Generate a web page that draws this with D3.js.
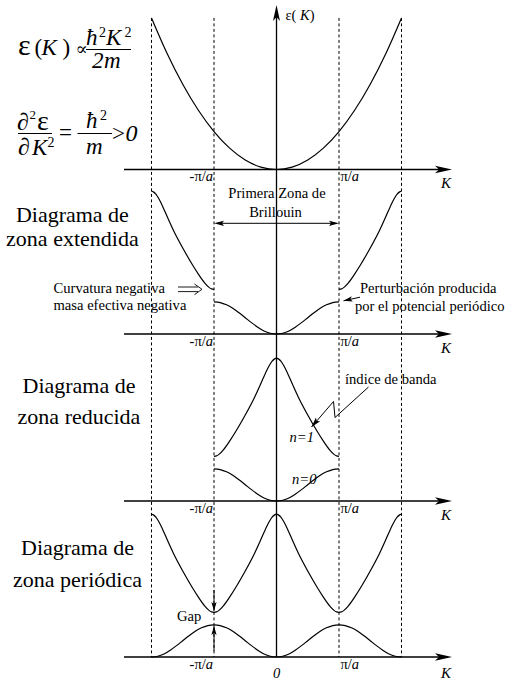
<!DOCTYPE html>
<html><head><meta charset="utf-8">
<script src="https://cdn.jsdelivr.net/npm/d3@7"></script>
<style>
html,body{margin:0;padding:0;background:#fff;}
svg{display:block;}
</style>
</head><body>
<svg id="c" width="515" height="689"></svg>
<script>
// ---------------- data ----------------
// K in units of π/a ; energy in units of (ħ²/2m)(π/a)²
const zoneK = [-2, -1, 1, 2];                 // dashed zone-boundary lines
const tickK = [-1, 1];                        // labelled ticks
const tickLabels = [["-π/", "a"], ["π/", "a"]];
// free electron parabola (0 ≤ K ≤ 2π/a)
const freeK = [0, 0.25, 0.5, 0.75, 1, 1.25, 1.5, 1.75, 2];
const freeE = [0, 0.0625, 0.25, 0.5625, 1, 1.5625, 2.25, 3.0625, 4];
// lowest band n=0 (0 ≤ K ≤ π/a)
const band0K = [0, 0.1, 0.2, 0.3, 0.4, 0.5, 0.6, 0.7, 0.8, 0.9, 1];
const band0E = [0, 0.02, 0.08, 0.18, 0.30, 0.43, 0.56, 0.68, 0.77, 0.83, 0.85];
// second band n=1 (π/a ≤ K ≤ 2π/a)
const band1K = [1, 1.04, 1.08, 1.15, 1.25, 1.35, 1.5, 1.65, 1.75, 1.82, 1.88, 1.93, 1.97, 2];
const band1E = [1.18, 1.19, 1.23, 1.35, 1.58, 1.84, 2.27, 2.74, 3.10, 3.36, 3.56, 3.69, 3.75, 3.77];
const panelTitles = [
  ["Diagrama de", "zona extendida"],
  ["Diagrama de", "zona reducida"],
  ["Diagrama de", "zona periódica"]
];

// ---------------- layout ----------------
const FONT = "'Liberation Serif', 'DejaVu Serif', 'Times New Roman', Times, serif";
const svg = d3.select("#c").attr("font-family", FONT);
const axisY = [169.5, 334, 501, 657];
const x = d3.scaleLinear().domain([-2, 2]).range([151.5, 401.5]);
const yFor = ay => d3.scaleLinear().domain([0, 4]).range([ay, ay - 151.6]);
const axisX0 = 124, axisX1 = 452, vTop = 5;
const SW = 1.2;

const pts = (K, E) => K.map((k, i) => [k, E[i]]);
function dedupe(p) {
  p.sort((a, b) => a[0] - b[0]);
  return p.filter((d, i) => i === 0 || Math.abs(d[0] - p[i - 1][0]) > 1e-9);
}
const mirror = p => dedupe(p.concat(p.map(([k, e]) => [-k, e])));

const free = pts(freeK, freeE);
const b0 = pts(band0K, band0E);
const b1 = pts(band1K, band1E);
const b1fold = b1.map(([k, e]) => [2 - k, e]);   // folded into 1st zone
const b0shift = b0.map(([k, e]) => [2 - k, e]);  // repeated in 2nd zone

function drawCurve(p, ay) {
  const y = yFor(ay);
  const line = d3.line().x(d => x(d[0])).y(d => y(d[1])).curve(d3.curveMonotoneX);
  svg.append("path").attr("d", line(dedupe(p.slice())))
    .attr("fill", "none").attr("stroke", "#000").attr("stroke-width", SW);
}

function arrowHead(tx, ty, dx, dy, L, w, notch) {
  const n = Math.hypot(dx, dy); const ux = dx / n, uy = dy / n;
  const px = -uy, py = ux;
  const bx = tx - ux * L, by = ty - uy * L;
  const nx = tx - ux * (L - notch), ny = ty - uy * (L - notch);
  svg.append("path")
    .attr("d", `M${tx},${ty}L${bx + px * w},${by + py * w}L${nx},${ny}L${bx - px * w},${by - py * w}Z`)
    .attr("fill", "#000");
}
function arrowLine(points, L = 9, w = 2.6, notch = 2) {
  svg.append("path").attr("d", d3.line()(points))
    .attr("fill", "none").attr("stroke", "#000").attr("stroke-width", 1);
  const a = points[points.length - 2], b = points[points.length - 1];
  arrowHead(b[0], b[1], b[0] - a[0], b[1] - a[1], L, w, notch);
}
function txt(xp, yp, s, size, italic, anchor) {
  const t = svg.append("text").attr("x", xp).attr("y", yp).attr("font-size", size)
    .attr("font-family", FONT).text(s);
  if (italic) t.attr("font-style", "italic");
  if (anchor) t.attr("text-anchor", anchor);
  return t;
}

// ---------------- dashed zone lines ----------------
zoneK.forEach(k => {
  svg.append("line").attr("x1", x(k)).attr("x2", x(k))
    .attr("y1", yFor(axisY[0])(4)).attr("y2", axisY[3])
    .attr("stroke", "#000").attr("stroke-width", 1).attr("stroke-dasharray", "3,2.5");
});

// ---------------- axes ----------------
axisY.forEach((ay, i) => {
  svg.append("line").attr("x1", axisX0).attr("x2", axisX1 - 10).attr("y1", ay).attr("y2", ay)
    .attr("stroke", "#000").attr("stroke-width", 1.3);
  arrowHead(axisX1, ay, 1, 0, 17, 3.8, 4);
  tickK.forEach((k, j) => {
    const t = svg.append("text").attr("y", ay + 11.5).attr("font-size", 14.5).attr("font-family", FONT);
    if (k < 0) t.attr("x", x(k) - 1).attr("text-anchor", "end");
    else t.attr("x", x(k) + 1.5).attr("text-anchor", "start");
    t.append("tspan").text(tickLabels[j][0]);
    t.append("tspan").attr("font-style", "italic").text(tickLabels[j][1]);
  });
  txt(441, ay + (i === 3 ? 21 : 18.5), "K", 15, true);
});
txt(x(0), axisY[3] + 21, "0", 14.5, true, "middle");
// vertical energy axis
svg.append("line").attr("x1", x(0)).attr("x2", x(0)).attr("y1", vTop + 10).attr("y2", axisY[3])
  .attr("stroke", "#000").attr("stroke-width", 1.3);
arrowHead(x(0), vTop, 0, -1, 16, 3.5, 4);
{
  const t = svg.append("text").attr("x", 285.5).attr("y", 19.5).attr("font-size", 14.5).attr("font-family", FONT);
  t.append("tspan").text("ε( ");
  t.append("tspan").attr("font-style", "italic").text("K");
  t.append("tspan").text(")");
}

// ---------------- curves ----------------
drawCurve(mirror(free), axisY[0]);                       // free electron
drawCurve(mirror(b0), axisY[1]);                         // extended zone
drawCurve(b1, axisY[1]);
drawCurve(b1.map(([k, e]) => [-k, e]), axisY[1]);
drawCurve(mirror(b1fold), axisY[2]);                     // reduced zone
drawCurve(mirror(b0), axisY[2]);
drawCurve(mirror(b1fold.concat(b1)), axisY[3]);          // periodic zone
drawCurve(mirror(b0.concat(b0shift)), axisY[3]);

// ---------------- formulas ----------------
function bar(x1, x2, y) {
  svg.append("line").attr("x1", x1).attr("x2", x2).attr("y1", y).attr("y2", y)
    .attr("stroke", "#000").attr("stroke-width", 1.1);
}
// ε(K) ∝ ħ²K²/2m
txt(18, 55, "ε", 30, false);
txt(34.5, 55, "(", 23, false);
txt(41.5, 55, "K", 23, true);
txt(62.5, 55, ")", 23, false);
txt(75.5, 55, "∝", 18, false);
txt(86, 45, "ħ", 23, true);
txt(99, 37, "2", 14, false);
txt(106, 45, "K", 23, true);
txt(124.5, 37, "2", 14, false);
bar(86, 131, 49.5);
txt(92, 67.5, "2", 23, true);
txt(104, 67.5, "m", 23, true);
// ∂²ε/∂K² = ħ²/m > 0
txt(17, 130, "∂", 24, false);
txt(29.5, 119, "2", 13, false);
txt(37, 130, "ε", 28, false);
bar(18, 52, 133.5);
txt(18, 155, "∂", 24, false);
txt(32, 155, "K", 23, true);
txt(47.5, 147, "2", 14, false);
txt(59, 140, "=", 23, false);
txt(86, 128, "ħ", 23, true);
txt(100, 120, "2", 14, false);
bar(77.5, 112, 133.5);
txt(86, 153.5, "m", 23, true);
txt(112, 141, ">", 23, false);
txt(125.5, 141, "0", 24, true);

// ---------------- titles ----------------
const titlePos = [[72.4, 221.7, 246], [79, 392.5, 423.5], [77.5, 555, 586.5]];
panelTitles.forEach((lines, i) => {
  txt(titlePos[i][0], titlePos[i][1], lines[0], 22, false, "middle");
  txt(titlePos[i][0], titlePos[i][2], lines[1], 22, false, "middle");
});

// ---------------- annotations ----------------
const AF = 14.6;
txt(277, 198, "Primera Zona de", AF, false, "middle");
txt(275.5, 216.5, "Brillouin", AF, false, "middle");
svg.append("line").attr("x1", x(-1) + 4).attr("x2", x(1) - 4).attr("y1", 223.3).attr("y2", 223.3)
  .attr("stroke", "#000").attr("stroke-width", 1);
arrowHead(x(-1), 223.3, -1, 0, 10, 2.6, 2);
arrowHead(x(1), 223.3, 1, 0, 10, 2.6, 2);

txt(53.5, 293, "Curvatura negativa", AF, false);
txt(53.5, 309.5, "masa efectiva negativa", AF, false);
svg.append("path").attr("d", "M178,287H198M178,291.6H198M194.5,284L202,289.3L194.5,294.6")
  .attr("fill", "none").attr("stroke", "#000").attr("stroke-width", 0.9);

txt(360, 292.5, "Perturbación producida", AF, false);
txt(355, 311, "por el potencial periódico", AF, false);
arrowLine([[360, 297.2], [343.5, 300.8]]);

txt(345, 384, "índice de banda", AF, false);
arrowLine([[368.5, 387], [335, 417.5], [333.5, 401.5], [311.5, 427]], 10, 2.8, 2);
txt(289.5, 442, "n=1", AF, true);
txt(292, 484, "n=0", AF, true);

txt(177, 621, "Gap", AF, false);
arrowLine([[x(-1), 590], [x(-1), 611]]);
arrowLine([[x(-1), 651], [x(-1), 626]]);
</script>
</body></html>
